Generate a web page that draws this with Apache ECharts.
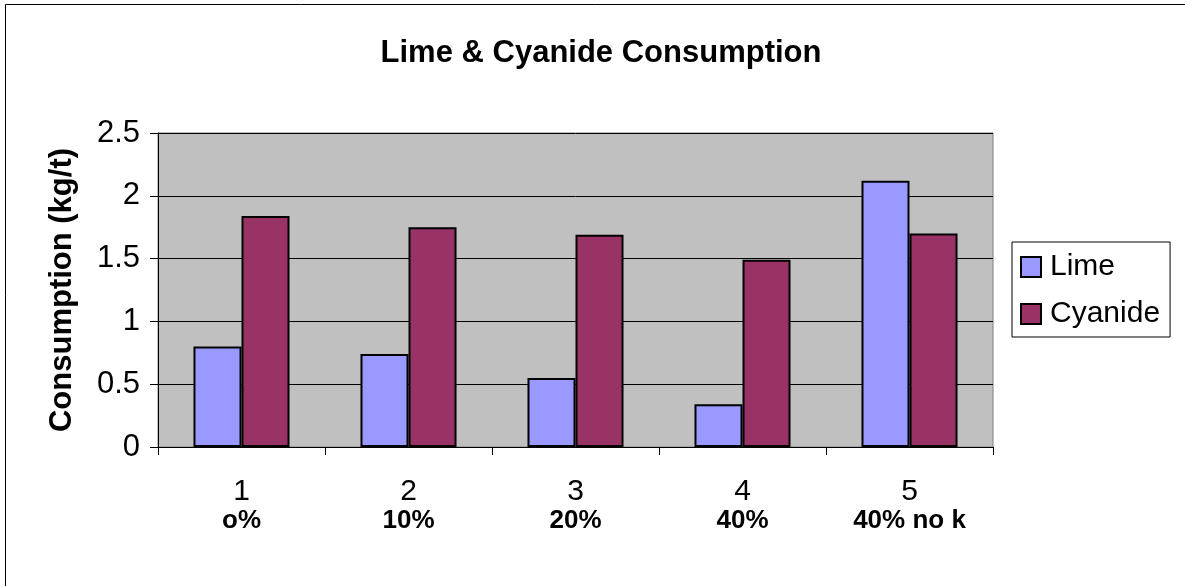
<!DOCTYPE html>
<html>
<head>
<meta charset="utf-8">
<script src="https://cdn.jsdelivr.net/npm/echarts@6/dist/echarts.min.js"></script>
<style>
  html, body { margin: 0; padding: 0; background: #fff; }
  #chart { width: 1185px; height: 586px; }
</style>
</head>
<body>
<div id="chart"></div>
<script>
// Trial numbers and their additive labels
const trials = ['1', '2', '3', '4', '5'];
const trialNotes = ['o%', '10%', '20%', '40%', '40% no k'];

// Reagent consumption, kg per tonne
const lime = [0.80, 0.74, 0.55, 0.34, 2.12];
const cyanide = [1.84, 1.75, 1.69, 1.49, 1.70];

// Value axis ticks
const yTicks = [0, 0.5, 1, 1.5, 2, 2.5];

const font = 'Liberation Sans, Arial, sans-serif';

const chart = echarts.init(document.getElementById('chart'), null, { renderer: 'canvas' });

chart.setOption({
  animation: false,
  backgroundColor: '#ffffff',
  textStyle: { fontFamily: font },
  graphic: [{
    // chart frame; its right and bottom edges run past the page
    type: 'rect',
    shape: { x: 5.5, y: 4.5, width: 1200, height: 600 },
    style: { fill: 'none', stroke: '#000', lineWidth: 1 },
    silent: true
  }],
  title: {
    text: 'Lime & Cyanide Consumption',
    left: 596,
    textAlign: 'center',
    top: 32,
    textStyle: { fontFamily: font, fontSize: 31, fontWeight: 'bold', color: '#000', lineHeight: 32 }
  },
  legend: {
    orient: 'vertical',
    left: 1012,
    top: 242,
    padding: [10, 10, 8, 8],
    itemGap: 17,
    itemWidth: 20,
    itemHeight: 20,
    icon: 'rect',
    borderColor: '#000',
    borderWidth: 1,
    backgroundColor: '#fff',
    textStyle: { fontFamily: font, fontSize: 30, color: '#000', lineHeight: 28, padding: [0, 0, 0, 4] },
    data: ['Lime', 'Cyanide']
  },
  grid: {
    left: 158,
    right: 192,
    top: 133,
    bottom: 139,
    show: true,
    backgroundColor: '#C0C0C0',
    borderColor: '#808080',
    borderWidth: 1
  },
  xAxis: {
    type: 'category',
    data: trials,
    axisLine: { show: true, lineStyle: { color: '#000', width: 1 } },
    axisTick: { show: true, alignWithLabel: false, length: 8, lineStyle: { color: '#000' } },
    axisLabel: {
      margin: 30,
      formatter: function (v, i) {
        return '{n|' + v + '}\n{b|' + trialNotes[i] + '}';
      },
      rich: {
        n: { fontFamily: font, fontSize: 30, color: '#000', lineHeight: 30 },
        b: { fontFamily: font, fontSize: 26, fontWeight: 'bold', color: '#000', lineHeight: 28 }
      }
    }
  },
  yAxis: {
    type: 'value',
    min: yTicks[0],
    max: yTicks[yTicks.length - 1],
    interval: 0.5,
    name: 'Consumption (kg/t)',
    nameLocation: 'middle',
    nameGap: 80,
    nameTextStyle: { fontFamily: font, fontSize: 31, fontWeight: 'bold', color: '#000' },
    axisLine: { show: true, lineStyle: { color: '#000', width: 1 } },
    axisTick: { show: true, length: 8, lineStyle: { color: '#000' } },
    axisLabel: { margin: 18, fontFamily: font, fontSize: 31, color: '#000' },
    splitLine: { show: true, lineStyle: { color: '#000', width: 1 } }
  },
  series: [
    {
      name: 'Lime',
      type: 'bar',
      data: lime,
      barGap: '0%',
      barCategoryGap: '42.5%',
      itemStyle: { color: '#9999FF', borderColor: '#000', borderWidth: 2 }
    },
    {
      name: 'Cyanide',
      type: 'bar',
      data: cyanide,
      itemStyle: { color: '#993366', borderColor: '#000', borderWidth: 2 }
    }
  ]
});
</script>
</body>
</html>
